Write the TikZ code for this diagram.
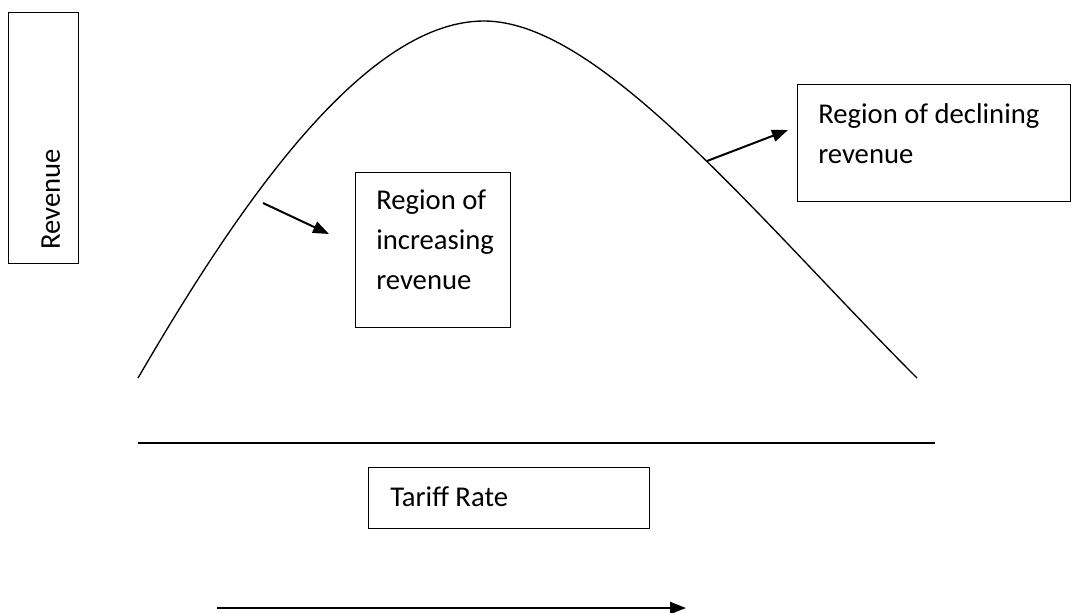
\documentclass[tikz,border=0pt]{standalone}
\usepackage{fontspec}
\setmainfont{Carlito}
\usetikzlibrary{arrows.meta}

\tikzset{
	boxed/.style={draw, line width=1pt, inner sep=0pt, anchor=north west},
	lbl/.style={font=\fontsize{21.5}{30}\selectfont, inner sep=0pt, align=left},
	pointer/.style={line width=1.5pt, -{Triangle[length=12pt,width=9pt]}}
}

\begin{document}
\begin{tikzpicture}[x=0.75pt, y=-0.75pt]
	\useasboundingbox (0,0) rectangle (1072,612);
	
	%Achse Revenue
	\node[boxed, minimum width=52.5pt, minimum height=188.25pt] (revbox) at (8,12) {};
	\node[lbl, rotate=90, anchor=base west] (revtxt) at (60,250) {Revenue};
	
	%Kurve
	\draw[line width=1pt] (138,378) .. controls (230,220) and (360,21) .. (484,21)
		.. controls (600,21) and (757,218) .. (917,378);
	
	%Bereiche
	\node[boxed, minimum width=116.25pt, minimum height=116.25pt] (incbox) at (355,172) {};
	\node[lbl, anchor=north west] (inctxt) at (376,190) {Region of\\increasing\\revenue};
	\node[boxed, minimum width=204.75pt, minimum height=87.75pt] (decbox) at (797,84) {};
	\node[lbl, anchor=north west] (dectxt) at (818,103) {Region of declining\\revenue};
	
	\coordinate (incfrom) at (263,203);
	\coordinate (incto) at (329,234);
	\draw[pointer] (incfrom) -- (incto);
	\coordinate (decfrom) at (707,161);
	\coordinate (decto) at (788,130);
	\draw[pointer] (decfrom) -- (decto);
	
	%Achse Tariff Rate
	\coordinate (axleft) at (138,443);
	\coordinate (axright) at (935,443);
	\draw[line width=1.2pt] (axleft) -- (axright);
	\node[boxed, minimum width=210.75pt, minimum height=45.75pt] (tarbox) at (368,467) {};
	\node[lbl, anchor=base west] (tartxt) at (390,506) {Tariff Rate};
	\coordinate (tarfrom) at (217,608);
	\coordinate (tarto) at (686,608);
	\draw[pointer] (tarfrom) -- (tarto);
\end{tikzpicture}
\end{document}
